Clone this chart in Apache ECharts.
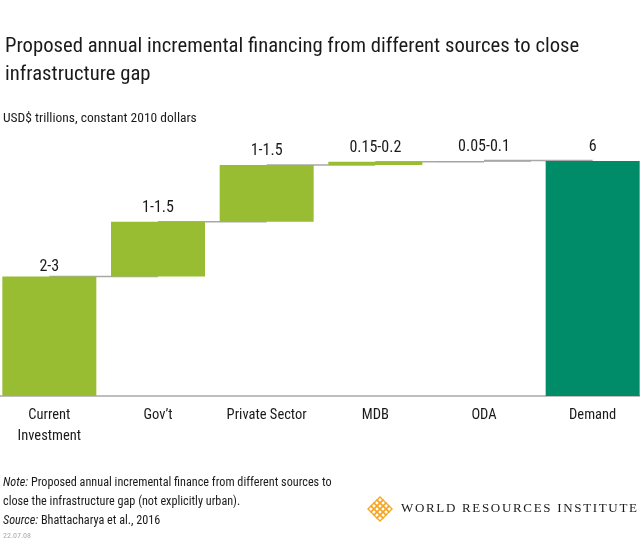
<!DOCTYPE html>
<html><head><meta charset="utf-8">
<script src="https://cdn.jsdelivr.net/npm/echarts@6/dist/echarts.min.js"></script>
<style>html,body{margin:0;padding:0;background:#fff;overflow:hidden;width:640px;height:554px}
#c{position:absolute;left:-5px;top:0;width:652px;height:554px}</style>
</head><body><div id="c"></div>
<script>
const categories = ['Current\nInvestment', "Gov\u2019t", 'Private Sector', 'MDB', 'ODA', 'Demand'];
const barValues = [3.05, 1.4, 1.45, 0.08, 0.03, 6];
const barLabels = ['2-3', '1-1.5', '1-1.5', '0.15-0.2', '0.05-0.1', '6'];
const isTotal = [false, false, false, false, false, true];

const FONT = "'Roboto Condensed','Liberation Sans Narrow','DejaVu Sans Condensed',sans-serif";
const SERIF = "'Liberation Serif','DejaVu Serif',serif";
const OX = 5; // container offset

const bases = [];
let run = 0;
for (let i = 0; i < barValues.length; i++) {
  if (isTotal[i]) { bases.push(0); }
  else { bases.push(run); run += barValues[i]; }
}
const tops = barValues.map((v, i) => bases[i] + v);

function spacedText(str, fontSize, targetWidth) {
  const cv = document.createElement('canvas').getContext('2d');
  cv.font = fontSize + 'px ' + SERIF;
  const chars = str.split('');
  const widths = chars.map(ch => cv.measureText(ch).width);
  const total = widths.reduce((a, b) => a + b, 0);
  const gap = (targetWidth - total) / (chars.length - 1);
  const out = [];
  let x = 0;
  chars.forEach((ch, i) => {
    if (ch !== ' ') out.push({type: 'text', x: x, y: 0, style: {text: ch, font: fontSize + 'px ' + SERIF, fill: '#1a1a1a'}});
    x += widths[i] + gap;
  });
  return out;
}

function logo() {
  const out = [];
  const s = 3;
  for (let r = 0; r < 4; r++) for (let c = 0; c < 4; c++) {
    const cx = 12 + (c - r) * s, cy = (c + r) * s;
    out.push({type: 'polygon', shape: {points: [[cx, cy], [cx + s, cy + s], [cx, cy + 2 * s], [cx - s, cy + s]]},
      style: {fill: 'none', stroke: '#f5a623', lineWidth: 1.4}});
  }
  return out;
}

const chart = echarts.init(document.getElementById('c'), null, {renderer: 'canvas'});
chart.setOption({
  animation: false,
  backgroundColor: '#fff',
  title: [
    {text: 'Proposed annual incremental financing from different sources to close\ninfrastructure gap',
     left: 5 + OX, top: 33, padding: 0,
     textStyle: {fontFamily: FONT, fontSize: 20.7, fontWeight: 'normal', color: '#1a1a1a', lineHeight: 28}},
    {text: 'USD$ trillions, constant 2010 dollars', left: 3 + OX, top: 112, padding: 0,
     textStyle: {fontFamily: FONT, fontSize: 13.5, fontWeight: 'normal', color: '#1a1a1a'}}
  ],
  grid: {left: 0, right: 0, top: 161, bottom: 158},
  xAxis: {
    type: 'category', data: categories,
    axisLine: {lineStyle: {color: '#a8a8a8', width: 1.5}},
    axisTick: {show: false},
    axisLabel: {fontFamily: FONT, fontSize: 14.5, color: '#1a1a1a', margin: 9, lineHeight: 21, interval: 0}
  },
  yAxis: {type: 'value', min: 0, max: 6, show: false, splitLine: {show: false}},
  series: [
    {type: 'bar', stack: 'w', barWidth: 94, data: bases,
     itemStyle: {color: 'rgba(0,0,0,0)'}, silent: true},
    {type: 'bar', stack: 'w', barWidth: 94,
     data: barValues.map((v, i) => ({value: v, itemStyle: {color: isTotal[i] ? '#008b69' : '#98bd33'},
       label: i === 0 ? {distance: 2} : undefined})),
     label: {show: true, position: 'top', distance: 6, fontFamily: FONT, fontSize: 16, color: '#1a1a1a',
             formatter: p => barLabels[p.dataIndex]}},
    {type: 'custom', z: 1,
     data: tops.slice(0, tops.length - 1).map((t, i) => [i, t]),
     renderItem: function (params, api) {
       const i = api.value(0), t = api.value(1);
       const a = api.coord([i, t]);
       const b = api.coord([i + 1, t]);
       return {type: 'line', shape: {x1: a[0], y1: a[1], x2: b[0], y2: b[1]},
               style: {stroke: '#a8a8a8', lineWidth: 1.5}};
     }}
  ],
  graphic: [
    {type: 'text', left: 3 + OX, top: 473, style: {
      text: '{i|Note:} Proposed annual incremental finance from different sources to\nclose the infrastructure gap (not explicitly urban).\n{i|Source:} Bhattacharya et al., 2016',
      fontFamily: FONT, fontSize: 12.2, lineHeight: 19, fill: '#1a1a1a',
      rich: {i: {fontStyle: 'italic', fontFamily: FONT, fontSize: 12.2}}}},
    {type: 'text', left: 3 + OX, top: 532, style: {text: '22.07.08', fontFamily: FONT, fontSize: 8, fill: '#aaaaaa'}},
    {type: 'group', x: 401 + OX, y: 502, children: spacedText('WORLD RESOURCES INSTITUTE', 13, 236)},
    {type: 'group', x: 368 + OX, y: 497, children: logo()}
  ]
});
</script></body></html>
